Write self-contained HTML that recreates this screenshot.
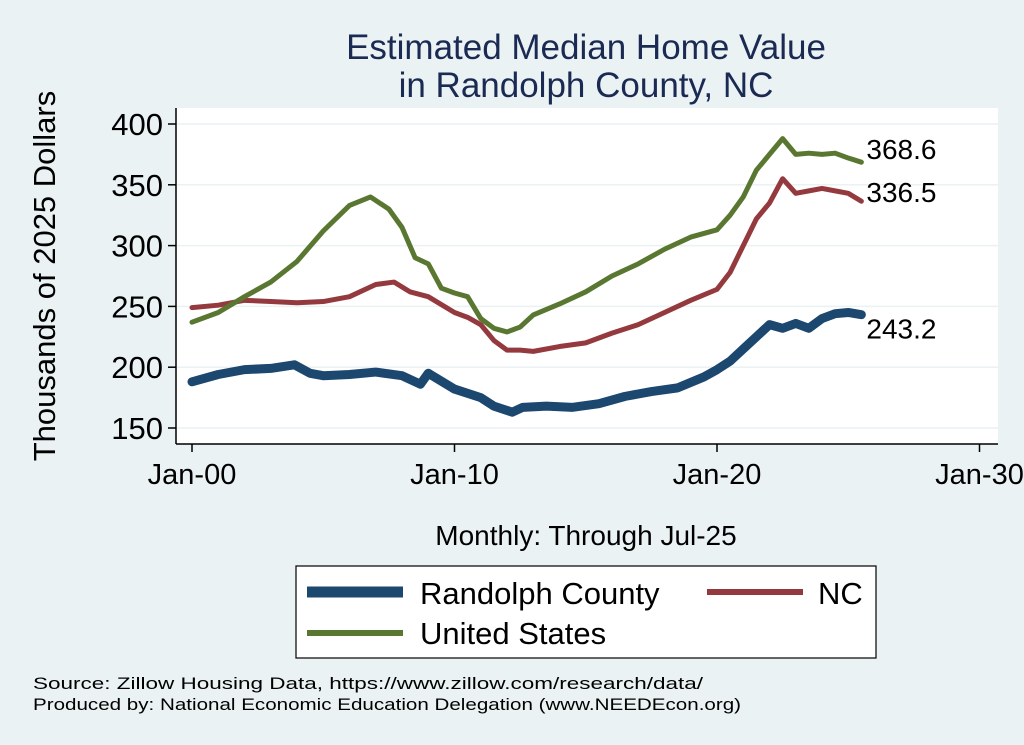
<!DOCTYPE html>
<html><head><meta charset="utf-8"><style>
body{margin:0;background:#eaf2f3;}
svg{display:block;font-family:"Liberation Sans",sans-serif;}
</style></head><body>
<svg id="chart" width="1024" height="745" viewBox="0 0 1024 745">
<rect x="0" y="0" width="1024" height="745" fill="#eaf2f3"/>
<text x="586" y="59" font-size="35" fill="#1a2a52" text-anchor="middle">Estimated Median Home Value</text>
<text x="586" y="97" font-size="35" fill="#1a2a52" text-anchor="middle">in Randolph County, NC</text>
<rect x="176" y="108" width="822" height="336" fill="#fff"/>
<g id="grid"></g>
<line x1="176" y1="108" x2="176" y2="444" stroke="#000" stroke-width="1.5"/>
<line x1="176" y1="444" x2="998" y2="444" stroke="#000" stroke-width="1.5"/>
<g id="axes"></g>
<g id="series"></g>
<text transform="translate(55,276) rotate(-90)" font-size="31" text-anchor="middle">Thousands of 2025 Dollars</text>
<text x="586" y="545" font-size="28" text-anchor="middle">Monthly: Through Jul-25</text>
<g>
<rect x="296" y="566" width="580" height="92" fill="#fff" stroke="#000" stroke-width="1.2"/>
<line x1="307" y1="592" x2="403" y2="592" stroke="#1c476f" stroke-width="11"/>
<text x="420" y="604" font-size="31">Randolph County</text>
<line x1="707" y1="592" x2="803" y2="592" stroke="#943a3f" stroke-width="6"/>
<text x="818" y="604" font-size="31">NC</text>
<line x1="307" y1="633" x2="403" y2="633" stroke="#5a7731" stroke-width="6"/>
<text x="420" y="644" font-size="31">United States</text>
</g>
<text x="33" y="689" font-size="17" textLength="670" lengthAdjust="spacingAndGlyphs">Source: Zillow Housing Data, https://www.zillow.com/research/data/</text>
<text x="33" y="710" font-size="17" textLength="708" lengthAdjust="spacingAndGlyphs">Produced by: National Economic Education Delegation (www.NEEDEcon.org)</text>
</svg>
<script>
const yTicks=[150,200,250,300,350,400];
const xTickYears=[2000,2010,2020,2030];
const xTickLabels=["Jan-00","Jan-10","Jan-20","Jan-30"];
const usT=[2000,2001,2002,2003,2004,2005,2006,2006.8,2007.5,2008,2008.5,2009,2009.5,2010,2010.5,2011,2011.5,2012,2012.5,2013,2014,2015,2016,2017,2018,2019,2020,2020.5,2021,2021.5,2022,2022.5,2023,2023.5,2024,2024.5,2025,2025.5];
const usV=[237,245,258,270,287,312,333,340,330,315,290,285,265,261,258,240,232,229,233,243,252,262,275,285,297,307,313,325,340,362,375,388,375,376,375,376,372,368.6];
const ncT=[2000,2001,2002,2003,2004,2005,2006,2007,2007.7,2008.3,2009,2010,2010.5,2011,2011.5,2012,2012.5,2013,2014,2015,2016,2017,2018,2019,2020,2020.5,2021,2021.5,2022,2022.5,2023,2023.5,2024,2024.5,2025,2025.5];
const ncV=[249,251,255,254,253,254,258,268,270,262,258,245,241,235,222,214,214,213,217,220,228,235,245,255,264,278,300,322,335,355,343,345,347,345,343,336.5];
const rcT=[2000,2001,2002,2003,2003.9,2004.5,2005,2006,2007,2008,2008.7,2009,2010,2011,2011.5,2012.2,2012.6,2013.5,2014.5,2015.5,2016.5,2017.5,2018.5,2019.5,2020,2020.5,2021,2021.5,2022,2022.5,2023,2023.5,2024,2024.5,2025,2025.5];
const rcV=[188,194,198,199,202,195,193,194,196,193,186,195,182,175,168,163,167,168,167,170,176,180,183,192,198,205,215,225,235,232,236,232,240,244,245,243.2];
const NS="http://www.w3.org/2000/svg";
const xs=t=>192+(t-2000)*26.25;
const ys=v=>428-(v-150)*1.216;
function mk(tag,attrs,parent){const e=document.createElementNS(NS,tag);for(const k in attrs)e.setAttribute(k,attrs[k]);document.getElementById(parent).appendChild(e);return e;}
yTicks.forEach(v=>{
 const g=mk('line',{x1:177,x2:998,y1:ys(v),y2:ys(v),stroke:'#eaf2f3','stroke-width':1.5},'grid');
 
 
 const t=mk('line',{x1:168,x2:176,y1:ys(v),y2:ys(v),stroke:'#000','stroke-width':1.5},'axes');
 
 
 const l=mk('text',{x:163,y:ys(v)+11,'font-size':31,'text-anchor':'end'},'axes');
 l.textContent=v;
 
 
});
xTickYears.forEach((yr,i)=>{
 const t=mk('line',{x1:xs(yr),x2:xs(yr),y1:444,y2:452,stroke:'#000','stroke-width':1.5},'axes');
 
 
 const l=mk('text',{x:xs(yr),y:484,'font-size':29,'text-anchor':'middle'},'axes');
 l.textContent=xTickLabels[i];
 
 
});
function series(T,V,color,w,name,lblDy){
 const p=mk('polyline',{points:T.map((t,i)=>xs(t)+','+ys(V[i])).join(' '),fill:'none',stroke:color,'stroke-width':w,'stroke-linejoin':'round','stroke-linecap':'round'},'series');
 
 
 const last=V.length-1;
 const l=mk('text',{x:xs(T[last])+5,y:ys(V[last])+lblDy,'font-size':28},'series');
 l.textContent=V[last].toFixed(1);
 
 
}
series(rcT,rcV,'#1c476f',9,'randolph-county-line',24);
series(ncT,ncV,'#943a3f',5,'nc-line',1);
series(usT,usV,'#5a7731',5,'us-line',-3);
</script>
</body></html>
